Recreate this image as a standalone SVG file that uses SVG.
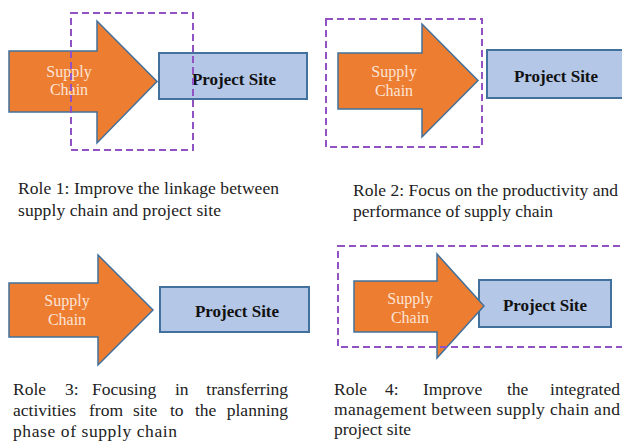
<svg xmlns="http://www.w3.org/2000/svg" width="622" height="444" viewBox="0 0 622 444">
<style>
.arrow{fill:#ED7D31;stroke:#41719C;stroke-width:1.5;stroke-linejoin:miter}
.site{fill:#B4C7E7;stroke:#41719C;stroke-width:2}
.dash{fill:none;stroke:#9152C4;stroke-width:2;stroke-dasharray:7 4}
.sc{font-family:"Liberation Serif","Times New Roman",serif;font-size:16px;fill:#FCE4D6;text-anchor:middle}
.ps{font-family:"Liberation Serif","Times New Roman",serif;font-size:17px;font-weight:bold;fill:#111;text-anchor:middle}
.cap{font-family:"Liberation Serif","Times New Roman",serif;font-size:17.5px;fill:#222}
.end{text-anchor:end}
</style>
<rect width="622" height="444" fill="#fff"/>
<g id="connectors"/>

<!-- Panel 1 -->
<g id="p1-site">
<rect class="site" x="159" y="53" width="148" height="46"/>
<text class="ps" x="234" y="85">Project Site</text>
</g>
<g id="p1-supply">
<path class="arrow" d="M9,51 H97 V21 L157,81.5 L97,143 V112 H9 Z"/>
<text class="sc" x="69" y="77">Supply</text>
<text class="sc" x="69" y="95">Chain</text>
</g>
<g id="p1-boundary"><rect class="dash" x="71" y="13" width="122" height="137"/></g>
<g id="p1-caption">
<text class="cap" x="18" y="194" textLength="261" lengthAdjust="spacing">Role 1: Improve the linkage between</text>
<text class="cap" x="18" y="216" textLength="203" lengthAdjust="spacing">supply chain and project site</text>
</g>

<!-- Panel 2 -->
<g id="p2-site">
<rect class="site" x="487" y="50" width="137" height="48"/>
<text class="ps" x="556" y="82">Project Site</text>
</g>
<g id="p2-supply">
<path class="arrow" d="M338,53 H422 V24 L478,80.5 L422,137 V109 H338 Z"/>
<text class="sc" x="394" y="77">Supply</text>
<text class="sc" x="394" y="96">Chain</text>
</g>
<g id="p2-boundary"><rect class="dash" x="326" y="19" width="156" height="128"/></g>
<g id="p2-caption">
<text class="cap" x="353" y="196" textLength="265" lengthAdjust="spacing">Role 2: Focus on the productivity and</text>
<text class="cap" x="353" y="217" textLength="200" lengthAdjust="spacing">performance of supply chain</text>
</g>

<!-- Panel 3 -->
<g id="p3-site">
<rect class="site" x="160" y="287" width="149" height="45"/>
<text class="ps" x="237" y="317">Project Site</text>
</g>
<g id="p3-supply">
<path class="arrow" d="M9,283 H98 V255 L153,310 L98,365 V337 H9 Z"/>
<text class="sc" x="67" y="306">Supply</text>
<text class="sc" x="67" y="325">Chain</text>
</g>
<g id="p3-caption">
<text class="cap" y="395"><tspan x="13">Role </tspan><tspan x="65">3: </tspan><tspan x="92">Focusing </tspan><tspan x="175">in </tspan><tspan class="end" x="288">transferring</tspan></text>
<text class="cap" y="416"><tspan x="13">activities </tspan><tspan x="89">from </tspan><tspan x="133">site </tspan><tspan x="170">to </tspan><tspan x="195">the </tspan><tspan class="end" x="288">planning</tspan></text>
<text class="cap" x="13" y="437" textLength="164" lengthAdjust="spacing">phase of supply chain</text>
</g>

<!-- Panel 4 -->
<g id="p4-site">
<rect class="site" x="479" y="280" width="132" height="47"/>
<text class="ps" x="545" y="311">Project Site</text>
</g>
<g id="p4-supply">
<path class="arrow" d="M354,281 H437 V254 L484,306 L437,358 V332 H354 Z"/>
<text class="sc" x="410" y="304">Supply</text>
<text class="sc" x="410" y="323">Chain</text>
</g>
<g id="p4-boundary"><rect class="dash" x="338" y="246" width="290" height="101"/></g>
<g id="p4-caption">
<text class="cap" y="395"><tspan x="334">Role </tspan><tspan x="385">4: </tspan><tspan x="423">Improve </tspan><tspan x="507">the </tspan><tspan class="end" x="620">integrated</tspan></text>
<text class="cap" x="334" y="415" textLength="286" lengthAdjust="spacing">management between supply chain and</text>
<text class="cap" x="334" y="435" textLength="77" lengthAdjust="spacing">project site</text>
</g>
</svg>
